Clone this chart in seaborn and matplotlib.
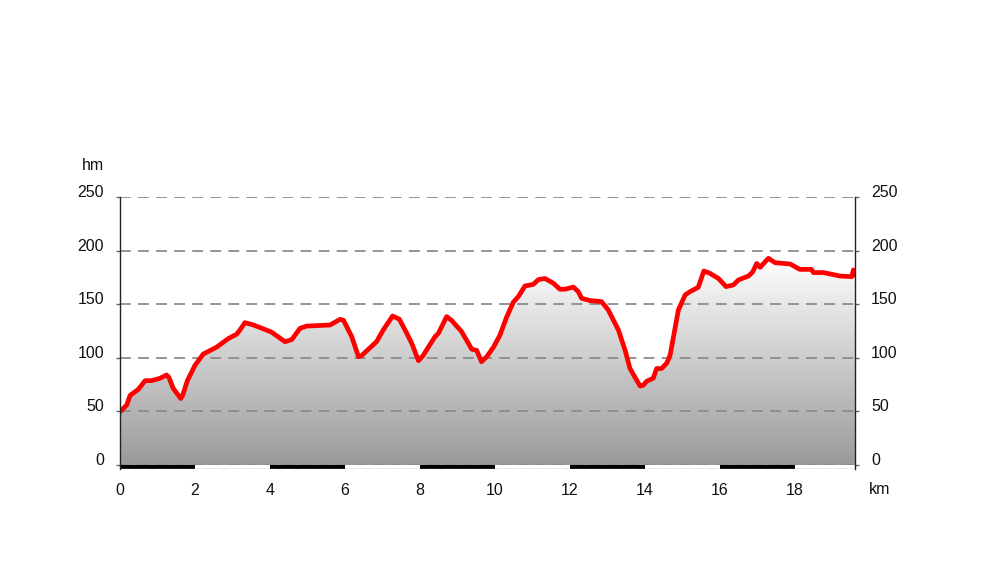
import numpy as np
import pandas as pd
import matplotlib
matplotlib.use("Agg")
import matplotlib.pyplot as plt
import seaborn as sns
from matplotlib.colors import LinearSegmentedColormap
from matplotlib.patches import Polygon, Rectangle

km = [0.0, 0.18, 0.27, 0.49, 0.67, 0.84, 1.07, 1.24, 1.3, 1.42, 1.62, 1.67, 1.8, 2.0,
      2.22, 2.58, 2.89, 3.11, 3.2, 3.33, 3.56, 4.04, 4.4, 4.58, 4.8, 4.98, 5.6, 5.87,
      5.96, 6.18, 6.36, 6.44, 6.84, 7.02, 7.27, 7.45, 7.6, 7.78, 7.96, 8.08, 8.4, 8.49,
      8.71, 8.84, 9.11, 9.38, 9.51, 9.64, 9.78, 9.96, 10.13, 10.31, 10.49, 10.62, 10.8,
      11.02, 11.16, 11.33, 11.56, 11.73, 11.87, 12.09, 12.22, 12.31, 12.53, 12.84, 13.02,
      13.29, 13.47, 13.6, 13.73, 13.87, 13.96, 14.04, 14.22, 14.31, 14.44, 14.58, 14.67,
      14.76, 14.89, 15.07, 15.2, 15.42, 15.57, 15.72, 15.96, 16.16, 16.36, 16.49, 16.76,
      16.87, 16.98, 17.07, 17.29, 17.47, 17.87, 18.13, 18.44, 18.49, 18.76, 19.2, 19.51,
      19.56, 19.6]
hm = [49.7, 56, 65, 70.6, 78.7, 78.7, 80.9, 84, 82, 71.5, 62, 65, 79, 93,
      103.5, 110, 118, 122, 126, 132.8, 130.6, 124, 115, 117, 127.5, 129.6, 130.6, 135.9,
      135, 119.7, 101, 102, 115, 126, 139, 136, 126, 113.5, 97.3, 102, 119.7, 122.8,
      138.4, 135, 124.4, 108, 107, 96.4, 101, 110, 121, 138, 152, 157, 167,
      168.5, 173, 174, 169.5, 164, 164, 166, 161.7, 155.5, 153.4, 152.4, 144.6,
      126, 107, 90, 82, 73.7, 74.6, 78, 81, 90, 90, 95, 102.6,
      119.7, 144.6, 158.6, 161.7, 165.8, 181, 179, 174, 166.4, 168, 172.6, 176.3,
      180, 188, 184.4, 192.8, 188.7, 187.5, 182.5, 182.5, 179.5, 179.5, 176.3, 175.7,
      182, 177]
y_ticks = [0, 50, 100, 150, 200, 250]
x_ticks = [0, 2, 4, 6, 8, 10, 12, 14, 16, 18]

df = pd.DataFrame({"km": km, "hm": hm})

sns.set_style("white")
plt.rcParams["font.family"] = ["Liberation Sans", "DejaVu Sans"]
FS = 11.5

fig = plt.figure(figsize=(10, 5.84), dpi=100)
ax = fig.add_axes([0.12, (584 - 469.3) / 584, 0.735, (469.3 - 197) / 584])

xmax = km[-1]
ax.set_xlim(0, xmax)
ax.set_ylim(-4, 250)

# gradient fill under curve
cmap = LinearSegmentedColormap.from_list("g", ["#9a9a9a", "#ffffff"])
grad = np.linspace(0, 1, 256).reshape(-1, 1)
im = ax.imshow(grad, aspect="auto", cmap=cmap, origin="lower",
               extent=[0, xmax, 0, 195], zorder=1)
poly = Polygon(np.column_stack([[0] + km + [xmax], [0] + hm + [0]]),
               closed=True, facecolor="none", edgecolor="none")
ax.add_patch(poly)
im.set_clip_path(poly)

# grid lines
for t in y_ticks:
    ax.axhline(t, color="#8c8c8c", lw=1.3, ls=(0, (6, 4)), zorder=2)

sns.lineplot(data=df, x="km", y="hm", ax=ax, color="#ff0000", lw=3.4,
             zorder=4, legend=False)

# km strip
for i in range(10):
    x0 = 2 * i
    w = min(2, xmax - x0)
    ax.add_patch(Rectangle((x0, -4), w, 4, facecolor="black" if i % 2 == 0 else "white",
                           edgecolor="none", zorder=3))
ax.plot([0, xmax], [-4, -4], color="#999999", lw=1, zorder=3)

for s in ["top", "bottom"]:
    ax.spines[s].set_visible(False)
for s in ["left", "right"]:
    ax.spines[s].set_color("#222222")
    ax.spines[s].set_linewidth(1)
    ax.spines[s].set_zorder(5)

ax.set_yticks(y_ticks)
ax.set_xticks(x_ticks)
ax.set_xticklabels([str(t) for t in x_ticks])
ax.tick_params(axis="y", which="both", left=True, right=True, labelleft=True,
               labelright=True, length=3, width=1, color="#666666", pad=8.5,
               labelsize=FS, labelcolor="#111111")
ax.tick_params(axis="x", length=0, pad=10, labelsize=FS, labelcolor="#111111")
for tk in ax.yaxis.get_major_ticks():
    tk.label1.set_va("baseline")
    tk.label2.set_va("baseline")
ax.set_xlabel("")
ax.set_ylabel("")

fig.text(0.093, 1 - 165 / 584, "hm", ha="center", va="center", fontsize=FS, color="#111111")
fig.text(0.880, 1 - 489 / 584, "km", ha="center", va="center", fontsize=FS, color="#111111")

fig.savefig("out.png", dpi=100)
